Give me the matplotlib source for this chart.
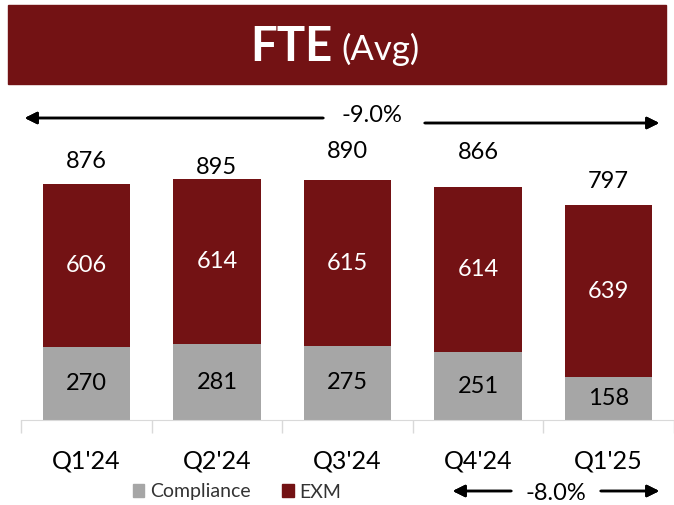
import matplotlib.pyplot as plt
from matplotlib.patches import Rectangle, Patch

# 분기별 FTE 데이터
quarters = ["Q1'24", "Q2'24", "Q3'24", "Q4'24", "Q1'25"]
compliance = [270, 281, 275, 251, 158]
exm = [606, 614, 615, 614, 639]
total = [876, 895, 890, 866, 797]
change_total = '-9.0%'
change_last = '-8.0%'

red = '#731214'
grey = '#A6A6A6'

plt.rcParams['font.family'] = ['Lato', 'DejaVu Sans']

W, H = 674, 505
fig = plt.figure(figsize=(W / 100, H / 100), dpi=100)

# 상단 제목 배너
fig.patches.append(Rectangle((8 / W, 1 - 84 / H), 658 / W, 79 / H,
                             transform=fig.transFigure, color=red, zorder=0))
fig.text(333 / W, 1 - 47 / H, 'FTE', color='white', fontsize=34, fontweight='bold',
         ha='right', va='center')
fig.text(341 / W, 1 - 49 / H, '(Avg)', color='white', fontsize=25,
         ha='left', va='center')

ax = fig.add_axes([21 / W, 85 / H, 653 / W, 335 / H])
x = range(len(quarters))
bw = 0.67
ax.bar(x, compliance, bw, color=grey, label='Compliance')
ax.bar(x, exm, bw, bottom=compliance, color=red, label='EXM')

ax.set_xlim(-0.5, 4.5)
ax.set_ylim(0, 1243)

# 막대 안의 숫자
for i in x:
    ax.text(i, compliance[i] / 2, str(compliance[i]), ha='center', va='center',
            fontsize=17, color='black')
    ax.text(i, compliance[i] + exm[i] / 2, str(exm[i]), ha='center', va='center',
            fontsize=17, color='white')

# 합계 숫자 (그림에 맞게 위치 조정)
label_offsets = [22, 11, 29, 34, 24]
for i in x:
    ax.annotate(str(total[i]), (i, total[i]), xytext=(0, label_offsets[i] * 0.72),
                textcoords='offset points', ha='center', va='center', fontsize=17)

for s in ['left', 'right', 'top']:
    ax.spines[s].set_visible(False)
ax.spines['bottom'].set_color('#D9D9D9')
ax.set_yticks([])
ax.set_xticks(list(x))
ax.set_xticklabels(quarters, fontsize=18)
ax.tick_params(axis='x', which='major', length=0, pad=21)
ax.set_xticks([-0.5, 0.5, 1.5, 2.5, 3.5, 4.5], minor=True)
ax.tick_params(axis='x', which='minor', length=9, color='#D9D9D9', width=1)

# 화살표
def arrow(x0, y0, x1, y1):
    fig.add_artist(plt.annotate('', xy=(x1 / W, 1 - y1 / H), xytext=(x0 / W, 1 - y0 / H),
                                xycoords='figure fraction', textcoords='figure fraction',
                                arrowprops=dict(arrowstyle='-|>', color='black', lw=1.8,
                                                mutation_scale=18)))

arrow(326, 118, 22, 118)
arrow(422, 123, 662, 123)
fig.text(372 / W, 1 - 116 / H, change_total, fontsize=17, ha='center', va='center')

arrow(514, 491, 450, 491)
arrow(598, 491, 662, 491)
fig.text(556 / W, 1 - 493 / H, change_last, fontsize=17, ha='center', va='center')

fig.legend(handles=[Patch(color=grey, label='Compliance'), Patch(color=red, label='EXM')],
           loc='center', bbox_to_anchor=(237 / W, 1 - 492 / H), ncol=2, frameon=False,
           fontsize=14, handlelength=0.6, handleheight=0.6, handletextpad=0.3,
           columnspacing=1.6, labelcolor='#333333')

plt.savefig('out.png', dpi=100)
